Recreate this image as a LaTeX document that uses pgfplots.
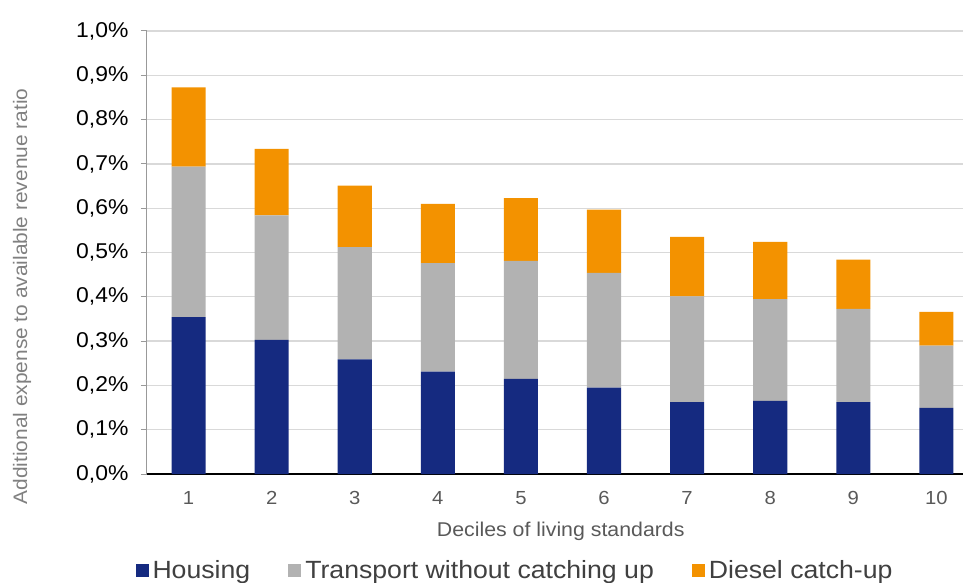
\documentclass[border=0pt]{standalone}
\usepackage{pgfplots}
\pgfplotsset{compat=1.18}
\usepackage{fontspec}
\setmainfont[FakeStretch=1.07]{Liberation Sans}
\definecolor{cnavy}{HTML}{152A80}
\definecolor{cgray}{HTML}{B2B2B2}
\definecolor{corange}{HTML}{F39200}
\definecolor{cgrid}{HTML}{D9D9D9}
\definecolor{ctxt}{HTML}{595959}
\definecolor{cleg}{HTML}{404040}
\begin{document}
\begin{tikzpicture}
\begin{axis}[
  scale only axis, width=816bp, height=443bp,
  ybar stacked, bar width=0.41,
  xmin=0.5, xmax=10.32, ymin=0, ymax=1.0,
  axis lines*=left,
  x axis line style={black, line width=1.6bp, -},
  y axis line style={draw=gray!80, line width=1bp, -},
  xtick={1,...,10}, xtick style={draw=none},
  ytick={0,0.1,0.2,0.3,0.4,0.5,0.6,0.7,0.8,0.9,1.0},
  yticklabels={{0,0\%},{0,1\%},{0,2\%},{0,3\%},{0,4\%},{0,5\%},{0,6\%},{0,7\%},{0,8\%},{0,9\%},{1,0\%}},
  ytick style={draw=gray!80, line width=1bp},
  tick align=outside, major tick length=6bp,
  ymajorgrids, grid style={cgrid, line width=1.3bp},
  /pgf/number format/assume math mode=true,
  yticklabel style={font=\fontsize{21.5}{23}\selectfont, black, xshift=-9bp},
  xticklabel style={font=\fontsize{19}{21}\selectfont, text=ctxt, yshift=-8bp},
  xlabel={Deciles of living standards},
  xlabel style={font=\fontsize{20}{22}\selectfont, text=ctxt, at={(axis description cs:0.507,-0.129)}, anchor=center},
  ylabel={Additional expense to available revenue ratio},
  ylabel style={font=\fontsize{19.6}{21}\selectfont, text=gray, at={(axis description cs:-0.153,0.4007)}, anchor=center},
  legend columns=3,
  legend style={draw=none, fill=none, at={(axis description cs:0.451,-0.217)}, anchor=center,
    font=\fontsize{25}{27}\selectfont, text=cleg,
    /tikz/every odd column/.append style={column sep=2bp},
    /tikz/every even column/.append style={column sep=36bp}},
  legend image code/.code={\fill[#1,draw=none] (0bp,-6.5bp) rectangle (13bp,6.5bp);},
  clip=false,
]
\addplot[fill=cnavy, draw=none] coordinates {(1,0.354) (2,0.303) (3,0.259) (4,0.231) (5,0.215) (6,0.195) (7,0.162) (8,0.165) (9,0.162) (10,0.149)};
\addplot[fill=cgray, draw=none] coordinates {(1,0.340) (2,0.281) (3,0.253) (4,0.245) (5,0.266) (6,0.259) (7,0.239) (8,0.230) (9,0.211) (10,0.141)};
\addplot[fill=corange, draw=none] coordinates {(1,0.179) (2,0.150) (3,0.139) (4,0.134) (5,0.142) (6,0.143) (7,0.134) (8,0.129) (9,0.111) (10,0.076)};
\legend{Housing, Transport without catching up, Diesel catch-up}
\coordinate (sw) at (rel axis cs:0,0);
\coordinate (ne) at (rel axis cs:1,1);
\end{axis}
\pgfresetboundingbox
\path[use as bounding box] ([xshift=-147bp,yshift=-109bp]sw) rectangle ([yshift=31bp]ne);
\end{tikzpicture}
\end{document}
